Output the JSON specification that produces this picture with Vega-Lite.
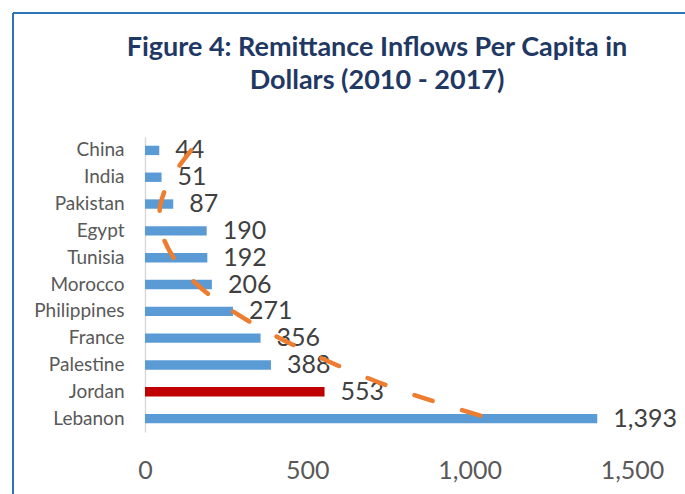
{
  "$schema": "https://vega.github.io/schema/vega-lite/v6.json",
  "width": 672,
  "height": 481,
  "autosize": {"type": "none"},
  "padding": {"left": 13, "top": 13, "right": 0, "bottom": 0},
  "background": "white",
  "config": {
    "view": {"stroke": "#2E75B6", "strokeWidth": 2, "strokeDash": [672, 1153, 481, 0]},
    "font": "Lato"
  },
  "title": {
    "text": ["Figure 4: Remittance Inflows Per Capita in", "Dollars (2010 - 2017)"],
    "font": "Lato",
    "fontSize": 27,
    "fontWeight": "bold",
    "color": "#1F3864",
    "lineHeight": 33,
    "anchor": "middle",
    "frame": "group",
    "dx": 28,
    "offset": -82
  },
  "data": {
    "values": [
      {"i": 1, "country": "China", "value": 44, "trend": 142},
      {"i": 2, "country": "India", "value": 51, "trend": 82},
      {"i": 3, "country": "Pakistan", "value": 87, "trend": 48},
      {"i": 4, "country": "Egypt", "value": 190, "trend": 50},
      {"i": 5, "country": "Tunisia", "value": 192, "trend": 88},
      {"i": 6, "country": "Morocco", "value": 206, "trend": 160},
      {"i": 7, "country": "Philippines", "value": 271, "trend": 270},
      {"i": 8, "country": "France", "value": 356, "trend": 415},
      {"i": 9, "country": "Palestine", "value": 388, "trend": 590},
      {"i": 10, "country": "Jordan", "value": 553, "trend": 800},
      {"i": 11, "country": "Lebanon", "value": 1393, "trend": 1063}
    ]
  },
  "layer": [
    {
      "mark": {"type": "bar"},
      "encoding": {
        "y": {
          "field": "country",
          "type": "nominal",
          "sort": null,
          "scale": {
            "type": "band",
            "domain": ["China", "India", "Pakistan", "Egypt", "Tunisia", "Morocco", "Philippines", "France", "Palestine", "Jordan", "Lebanon"],
            "range": [124, 419],
            "paddingInner": 0.65,
            "paddingOuter": 0.325
          },
          "axis": {
            "title": null,
            "orient": "left",
            "offset": -132,
            "domain": true,
            "domainColor": "#D9D9D9",
            "domainWidth": 1.5,
            "ticks": false,
            "tickSize": 0,
            "labelPadding": 21,
            "labelAlign": "right",
            "labelBaseline": "middle",
            "labelFont": "Lato",
            "labelFontSize": 19,
            "labelColor": "#595959"
          }
        },
        "x": {
          "field": "value",
          "type": "quantitative",
          "scale": {"domain": [-406.6, 1663.3], "nice": false, "zero": false},
          "axis": {
            "title": null,
            "orient": "bottom",
            "offset": -24,
            "values": [0, 500, 1000, 1500],
            "format": ",.0f",
            "domain": false,
            "ticks": false,
            "tickSize": 0,
            "grid": false,
            "labelPadding": 0,
            "labelBaseline": "middle",
            "labelFont": "Lato",
            "labelFontSize": 25,
            "labelColor": "#595959"
          }
        },
        "color": {
          "condition": {"test": "datum.country === 'Jordan'", "value": "#C00000"},
          "value": "#5B9BD5"
        }
      }
    },
    {
      "mark": {"type": "text", "align": "left", "baseline": "middle", "dx": 16, "font": "Lato", "fontSize": 25, "color": "#404040"},
      "encoding": {
        "y": {"field": "country", "type": "nominal", "sort": null},
        "x": {"field": "value", "type": "quantitative"},
        "text": {"field": "value", "type": "quantitative", "format": ",.0f"}
      }
    },
    {
      "mark": {"type": "line", "color": "#ED7D31", "strokeWidth": 4.5, "strokeDash": [19, 31], "strokeCap": "round", "interpolate": "natural"},
      "encoding": {
        "y": {"field": "country", "type": "nominal", "sort": null, "bandPosition": 0.5},
        "x": {"field": "trend", "type": "quantitative"},
        "order": {"field": "i", "type": "quantitative"}
      }
    }
  ]
}
